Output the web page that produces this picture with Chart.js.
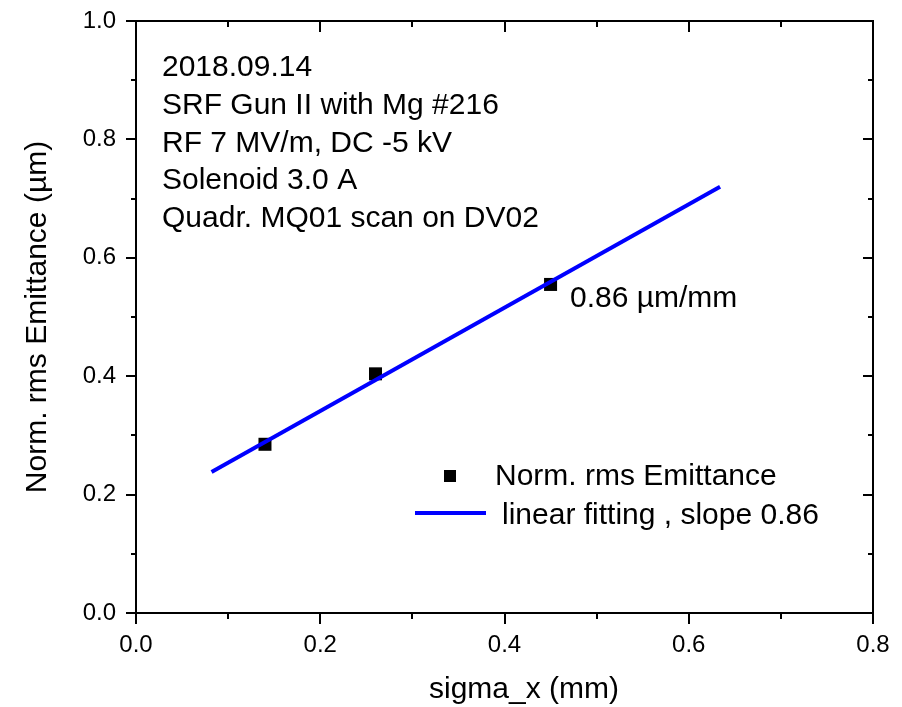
<!DOCTYPE html>
<html>
<head>
<meta charset="utf-8">
<script src="https://cdn.jsdelivr.net/npm/chart.js@4/dist/chart.umd.min.js"></script>
<style>
  html, body { margin: 0; padding: 0; background: #fff; }
  #wrap { width: 902px; height: 707px; }
</style>
</head>
<body>
<div id="wrap"><canvas id="emChart" width="902" height="707"></canvas></div>
<script>
// measured points
const sigmaX = [0.14, 0.26, 0.45];
const emittance = [0.285, 0.404, 0.555];
// fitted line end points
const fitX = [0.082, 0.634];
const fitY = [0.238, 0.720];

const xTickValues = [0, 0.2, 0.4, 0.6, 0.8];
const yTickValues = [0, 0.2, 0.4, 0.6, 0.8, 1.0];

const notes = [
  '2018.09.14',
  'SRF Gun II with Mg #216',
  'RF 7 MV/m, DC -5 kV',
  'Solenoid 3.0 A',
  'Quadr. MQ01 scan on DV02'
];
const slopeNote = '0.86 \u00b5m/mm';

const FONT = '"Liberation Sans", Arial, sans-serif';

const framePlugin = {
  id: 'frame',
  afterDraw(chart) {
    const { ctx, chartArea: a, scales } = chart;
    const xs = scales.x, ys = scales.y;
    ctx.save();
    ctx.strokeStyle = '#000';
    ctx.lineWidth = 2;
    ctx.strokeRect(a.left, a.top, a.right - a.left, a.bottom - a.top);

    // x ticks: outward on bottom, inward on top
    for (let v = 0; v <= 0.8001; v += 0.1) {
      const px = Math.round(xs.getPixelForValue(v));
      const major = Math.abs(Math.round(v * 10) % 2) === 0;
      const len = major ? 11 : 6;
      ctx.beginPath();
      ctx.moveTo(px, a.bottom); ctx.lineTo(px, a.bottom + len);
      ctx.moveTo(px, a.top); ctx.lineTo(px, a.top + len);
      ctx.stroke();
    }
    // y ticks: outward on left, inward on right
    for (let v = 0; v <= 1.0001; v += 0.1) {
      const py = Math.round(ys.getPixelForValue(v));
      const major = Math.abs(Math.round(v * 10) % 2) === 0;
      const len = major ? 10 : 5;
      ctx.beginPath();
      ctx.moveTo(a.left, py); ctx.lineTo(a.left - len, py);
      ctx.moveTo(a.right, py); ctx.lineTo(a.right - len, py);
      ctx.stroke();
    }

    ctx.fillStyle = '#000';
    ctx.font = '30px ' + FONT;
    ctx.textAlign = 'left';
    ctx.textBaseline = 'alphabetic';
    notes.forEach((t, i) => ctx.fillText(t, 162, 76 + i * 37.75));
    ctx.fillText(slopeNote, 570, 307);

    // axis titles
    ctx.textAlign = 'center';
    ctx.fillText('sigma_x (mm)', 524, 698);
    ctx.save();
    ctx.translate(46, (a.top + a.bottom) / 2);
    ctx.rotate(-Math.PI / 2);
    ctx.fillText('Norm. rms Emittance (\u00b5m)', 0, 0);
    ctx.restore();

    // legend
    const ds = chart.data.datasets;
    const pts = ds.find(d => d.type === 'scatter');
    const fit = ds.find(d => d.type === 'line');
    ctx.textAlign = 'left';
    ctx.fillStyle = pts.backgroundColor;
    ctx.fillRect(444, 470, 12, 12);
    ctx.fillStyle = '#000';
    ctx.fillText(pts.label, 495, 485);
    ctx.strokeStyle = fit.borderColor;
    ctx.lineWidth = fit.borderWidth;
    ctx.beginPath();
    ctx.moveTo(415, 513); ctx.lineTo(486, 513);
    ctx.stroke();
    ctx.fillText(fit.label, 502, 524);
    ctx.restore();
  }
};

const tickFont = { family: FONT, size: 24 };

new Chart(document.getElementById('emChart'), {
  data: {
    datasets: [
      {
        type: 'line',
        label: 'linear fitting , slope 0.86',
        data: fitX.map((x, i) => ({ x: x, y: fitY[i] })),
        borderColor: '#0000ff',
        borderWidth: 4,
        pointRadius: 0,
        fill: false,
        order: 0
      },
      {
        type: 'scatter',
        label: 'Norm. rms Emittance',
        data: sigmaX.map((x, i) => ({ x: x, y: emittance[i] })),
        backgroundColor: '#000',
        borderWidth: 0,
        pointStyle: 'rect',
        pointRadius: 9.2,
        order: 1
      }
    ]
  },
  options: {
    responsive: false,
    animation: false,
    layout: { padding: { left: 0, top: 21, right: 29, bottom: 0 } },
    plugins: { legend: { display: false }, tooltip: { enabled: false } },
    scales: {
      x: {
        type: 'linear',
        min: 0, max: 0.8,
        afterBuildTicks: s => { s.ticks = xTickValues.map(v => ({ value: v })); },
        afterFit: s => { s.height = 94; s.paddingLeft = 0; s.paddingRight = 0; },
        ticks: { font: tickFont, color: '#000', padding: 18, maxRotation: 0, callback: v => v.toFixed(1) },
        grid: { display: false, drawTicks: false },
        border: { display: false }
      },
      y: {
        type: 'linear',
        min: 0, max: 1.0,
        afterBuildTicks: s => { s.ticks = yTickValues.map(v => ({ value: v })); },
        afterFit: s => { s.width = 136; s.paddingTop = 0; s.paddingBottom = 0; },
        ticks: { font: tickFont, color: '#000', padding: 20, callback: v => v.toFixed(1) },
        grid: { display: false, drawTicks: false },
        border: { display: false }
      }
    }
  },
  plugins: [framePlugin]
});
</script>
</body>
</html>
